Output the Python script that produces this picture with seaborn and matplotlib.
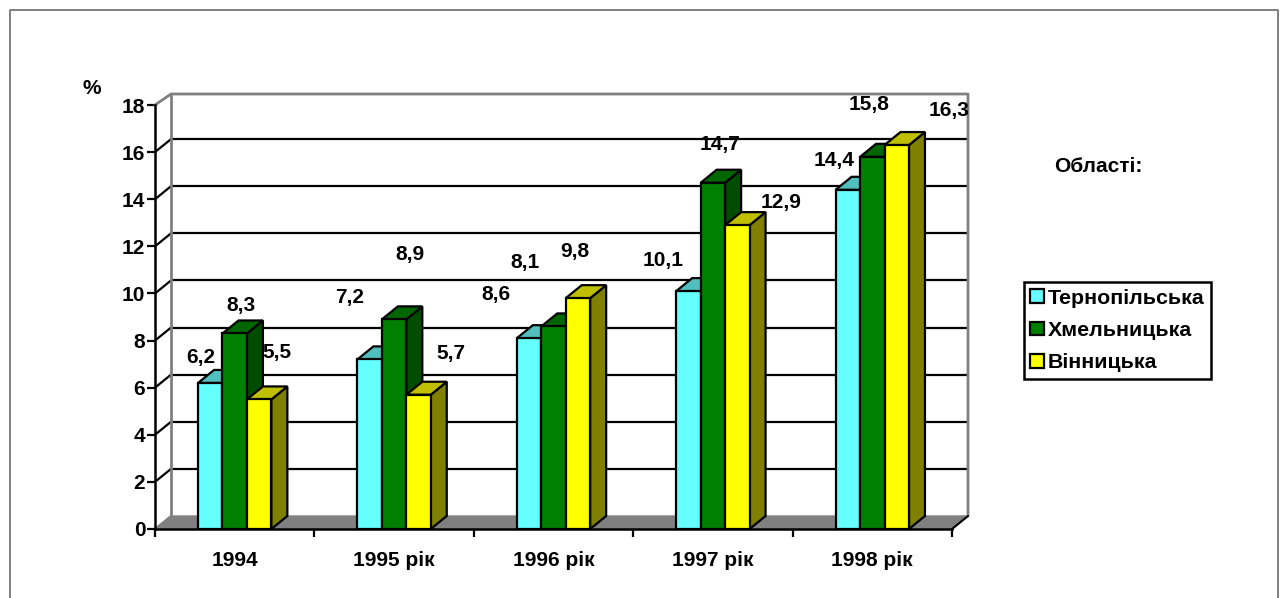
import matplotlib
matplotlib.use("Agg")
import matplotlib.pyplot as plt
import pandas as pd
import seaborn as sns
from matplotlib.lines import Line2D
from matplotlib.patches import Patch, Polygon

years = ["1994", "1995 рік", "1996 рік", "1997 рік", "1998 рік"]
regions = ["Тернопільська", "Хмельницька", "Вінницька"]
ternopil = [6.2, 7.2, 8.1, 10.1, 14.4]
khmelnytskyi = [8.3, 8.9, 8.6, 14.7, 15.8]
vinnytsia = [5.5, 5.7, 9.8, 12.9, 16.3]
value_labels = [
    ["6,2", "7,2", "8,1", "10,1", "14,4"],
    ["8,3", "8,9", "8,6", "14,7", "15,8"],
    ["5,5", "5,7", "9,8", "12,9", "16,3"],
]
y_ticks = [0, 2, 4, 6, 8, 10, 12, 14, 16, 18]

# Label offsets from the top of each bar, in pixels, per region and year
label_offsets = [
    [(-9, 25), (-20, 62), (-4, 76), (-25, 31), (-14, 29)],
    [(6, 28), (16, 65), (-58, 32), (7, 38), (-3, 52)],
    [(18, 47), (32, 41), (-3, 47), (44, 23), (52, 35)],
]

front_colors = ["#66FFFF", "#008000", "#FFFF00"]
top_colors = ["#52BFBF", "#006600", "#BFBF00"]
side_colors = ["#339999", "#004D00", "#808000"]
GREY = "#808080"
FONT_SIZE = 15
LEGEND_SIZE = 15.4

sns.set_style("white")
plt.rcParams["font.family"] = ["Liberation Sans", "DejaVu Sans"]
plt.rcParams["font.weight"] = "bold"
plt.rcParams["text.color"] = "black"
plt.rcParams["xtick.color"] = "black"
plt.rcParams["ytick.color"] = "black"

W, H = 1285, 598
fig = plt.figure(figsize=(W / 100, H / 100), dpi=100, facecolor="white")
left, right, base, top = 155, 952, 529, 105
ax = fig.add_axes([left / W, (H - base) / H, (right - left) / W, (base - top) / H])
ax.patch.set_visible(False)

records = pd.DataFrame({
    "year": years * 3,
    "region": [r for r in regions for _ in years],
    "value": ternopil + khmelnytskyi + vinnytsia,
})
sns.barplot(
    data=records, x="year", y="value", hue="region", hue_order=regions,
    palette=front_colors, saturation=1, width=0.46, gap=0, dodge=True,
    edgecolor="black", linewidth=1.6, legend=False, ax=ax,
)
ax.set_xlim(-0.5, len(years) - 0.5)
ax.set_ylim(0, 18)

# Depth of the 3-D box, expressed in data units
per_unit = (base - top) / 18
dx = 16 / ((right - left) / len(years))
dy = 13 / per_unit
top_dy = 11 / per_unit
x0, x1 = ax.get_xlim()

# Floor
ax.add_patch(Polygon([(x0, 0), (x1, 0), (x1 + dx, dy), (x0 + dx, dy)],
                     closed=True, fc=GREY, ec=GREY, lw=1, zorder=1, clip_on=False))

# Back wall grid and the diagonals running along the side wall
for t in y_ticks[1:-1]:
    ax.plot([x0 + dx, x1 + dx], [t + dy, t + dy], color="black", lw=1.6, zorder=2, clip_on=False)
    ax.plot([x0, x0 + dx], [t, t + dy], color="black", lw=1.6, zorder=2, clip_on=False)
wall = [(x0, 18), (x0 + dx, 18 + top_dy), (x1 + dx, 18 + top_dy), (x1 + dx, dy)]
ax.plot(*zip(*wall), color=GREY, lw=2, zorder=2, clip_on=False)
ax.plot([x0 + dx, x0 + dx], [dy, 18 + top_dy], color=GREY, lw=2, zorder=2, clip_on=False)
ax.plot([x0, x0 + dx], [0, dy], color=GREY, lw=1.5, zorder=2, clip_on=False)
ax.plot([x1, x1 + dx], [0, dy], color="black", lw=1.5, zorder=2, clip_on=False)

# Side and top faces of every bar, plus the value labels
for j, container in enumerate(ax.containers):
    for i, bar in enumerate(container.patches):
        xa, xb = bar.get_x(), bar.get_x() + bar.get_width()
        h = bar.get_height()
        z = 5 + 2 * j
        ax.add_patch(Polygon([(xb, 0), (xb + dx, dy), (xb + dx, h + dy), (xb, h)],
                             closed=True, fc=side_colors[j], ec="black", lw=1.6,
                             zorder=z, clip_on=False))
        ax.add_patch(Polygon([(xa, h), (xa + dx, h + dy), (xb + dx, h + dy), (xb, h)],
                             closed=True, fc=top_colors[j], ec="black", lw=1.6,
                             zorder=z, clip_on=False))
        bar.set_zorder(z + 1)
        ax.annotate(value_labels[j][i], xy=((xa + xb) / 2, h), xytext=label_offsets[j][i],
                    textcoords="offset pixels", ha="center", va="center",
                    fontsize=FONT_SIZE, fontweight="bold", color="black",
                    annotation_clip=False, zorder=30)

# Axes furniture
sns.despine(ax=ax, top=True, right=True)
for name in ("left", "bottom"):
    ax.spines[name].set_linewidth(1.8)
    ax.spines[name].set_color("black")
    ax.spines[name].set_zorder(20)
ax.set_xlabel("")
ax.set_ylabel("")
ax.set_yticks(y_ticks)
ax.tick_params(axis="y", which="major", length=5.5, width=1.6, color="black", left=True,
               pad=1.5, labelsize=FONT_SIZE)
ax.set_xticks(range(len(years)))
ax.set_xticklabels(years)
ax.set_xticks([k - 0.5 for k in range(len(years) + 1)], minor=True)
ax.tick_params(axis="x", which="major", length=0, pad=15.5, labelsize=FONT_SIZE)
ax.tick_params(axis="x", which="minor", length=5.5, width=1.6, color="black", bottom=True)
for lab in ax.get_xticklabels() + ax.get_yticklabels():
    lab.set_fontweight("bold")

fig.text(92 / W, 1 - 89 / H, "%", ha="center", va="center", fontsize=FONT_SIZE, fontweight="bold")
fig.text(1098 / W, 1 - 166 / H, "Області:", ha="center", va="center", fontsize=FONT_SIZE, fontweight="bold")

handles = [Patch(fc=c, ec="black", lw=1.6, label=r) for c, r in zip(front_colors, regions)]
legend = fig.legend(
    handles=handles, loc="center", bbox_to_anchor=(1117.5 / W, 1 - 330.5 / H),
    frameon=True, fancybox=False, edgecolor="black", framealpha=1,
    handlelength=0.62, handleheight=0.62, handletextpad=0.2, labelspacing=0.62,
    borderpad=0.3, borderaxespad=0,
    prop={"weight": "bold", "size": LEGEND_SIZE, "family": ["Liberation Sans"]},
)
legend.get_frame().set_linewidth(1.8)

# Outer chart border, running off the bottom of the image
border = [(10, H + 5), (10, 10), (1278, 10), (1278, H + 5)]
fig.add_artist(Line2D([p[0] / W for p in border], [1 - p[1] / H for p in border],
                      color=GREY, lw=1.4, transform=fig.transFigure))

fig.savefig("out.png", dpi=100, facecolor="white")
